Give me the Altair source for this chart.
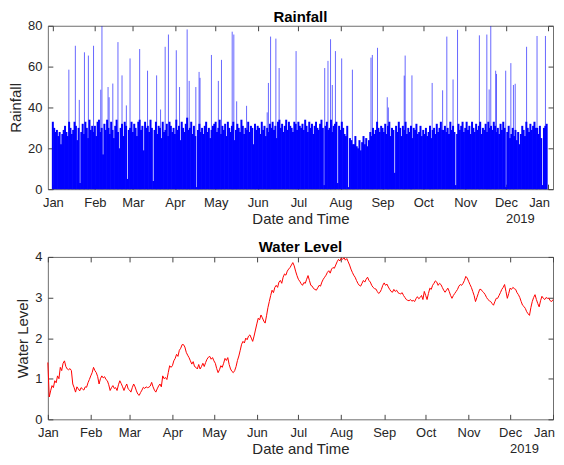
import altair as alt
import pandas as pd

START = "2019-01-01"

# ---------------- data ----------------
rain_jan = [33,30,28,29,26,28,22,27,29,31, 28,26,33,30,27,29,33,31,24,30, 3,28,32,27,33,30,25,34,29,31, 28]
rain_feb = [31,26,33,34,28,30,17,32,29,34, 30,27,33,29,25,31,34,28,20,30, 32,26,33,31,5,29,30,33]
rain_mar = [28,32,30,26,33,34,29,31,19,33, 30,31,28,34,30,4,29,33,27,31, 30,25,33,28,29,32,26,33,31,28, 30]
rain_apr = [27,34,29,31,24,33,30,28,32,35, 29,30,33,27,31,26,1,29,32,28, 30,27,31,33,28,30,25,29,31,32]
rain_may = [33,28,30,34,27,31,29,32,26,33, 30,28,31,33,24,29,32,30,28,34, 31,27,30,29,33,28,31,30,22,32, 29]
rain_jun = [31,30,27,33,29,31,26,30,28,32, 30,33,29,31,25,33,34,30,32,28, 31,34,29,33,31,30,28,33,32,29]
rain_jul = [33,31,30,32,29,34,31,28,33,30, 32,27,31,33,30,29,32,34,30,2, 31,33,29,30,34,28,31,32,33,3, 31]
rain_aug = [29,33,30,27,26,31,1,25,24,22, 22,26,21,20,24,19,23,26,22,25, 21,24,28,26,30,27,29,33,30,28, 31]
rain_sep = [30,28,32,27,31,33,26,30,29,8, 31,28,33,30,26,31,29,33,27,30, 28,31,25,30,29,32,27,28,31,26]
rain_oct = [29,27,30,26,28,31,25,29,30,27, 32,28,30,33,29,29,31,28,30,27, 33,29,31,28,2,27,32,29,31,33, 28]
rain_nov = [30,33,29,31,27,33,30,28,32,29, 31,33,27,30,29,32,28,33,30,31, 29,33,31,28,30,27,32,29,33,30]
rain_dec = [1,28,31,25,27,30,26,29,24,28, 22,27,31,29,26,33,30,28,32,29, 31,33,30,30,27,31,25,2,30,31, 32]

spike_day = [11.8,16.6,19.5,23.3,26.2,30.0,35.3,36.2,40.7,41.5,44.2,48.0,51.0,54.2,56.9,
             64.0,69.8,76.5,79.4,82.8,85.2,91.0,93.4,99.0,100.5,105.4,107.8,108.5,116.9,
             122.0,124.3,132.2,133.4,135.5,142.8,158.0,158.9,160.5,164.4,166.8,
             179.3,200.4,202.8,204.7,206.0,208.3,212.9,220.8,234.5,235.5,239.3,246.5,247.3,
             259.0,259.7,264.7,279.6,287.3,290.4,295.0,298.3,314.4,319.9,321.6,322.8,
             326.4,327.0,333.8,337.6,339.5,340.8,349.2,356.9,363.1]
spike_val = [58.5,70.2,43.7,67.0,65.4,70.2,48.7,79.8,50.0,45.0,51.7,72.0,55.7,41.0,64.0,
             68.6,58.0,55.7,39.0,69.7,75.7,68.0,50.0,78.2,53.0,50.0,57.4,54.5,65.7,
             53.0,63.3,77.1,75.7,43.0,40.8,37.6,52.0,74.7,73.7,59.3,
             67.6,59.3,62.8,73.4,51.0,67.6,64.0,58.5,64.4,65.7,69.2,45.0,40.0,
             55.6,65.4,55.7,52.0,48.4,74.7,53.7,78.0,75.3,75.7,48.8,79.8,
             58.0,56.4,58.0,61.7,51.0,51.6,69.7,75.0,75.0]

water_level = [
    1.40,0.55,0.70,0.83,0.78,0.95,0.90,1.07,1.00,1.28, 1.20,1.38,1.44,1.30,1.24,1.22,1.25,1.20,0.87,0.78,
    0.67,0.80,0.75,0.70,0.78,0.75,0.72,0.80,0.79,0.90, 0.98,1.07,1.15,1.28,1.20,1.15,1.05,0.87,1.00,1.07,
    1.02,1.05,0.98,0.95,0.85,0.71,0.78,0.83,0.76,0.78, 0.71,0.85,0.95,0.88,0.80,0.71,0.80,0.87,0.75,0.72,
    0.67,0.78,0.87,0.80,0.70,0.62,0.59,0.66,0.72,0.79, 0.76,0.80,0.78,0.79,0.82,0.91,0.80,0.72,0.67,0.75,
    0.82,0.87,0.80,1.07,1.00,1.03,0.98,1.15,1.32,1.28, 1.32,1.44,1.50,1.60,1.55,1.70,1.75,1.84,1.84,1.78,
    1.65,1.58,1.52,1.44,1.36,1.42,1.30,1.28,1.24,1.35, 1.24,1.30,1.38,1.30,1.40,1.48,1.53,1.55,1.48,1.52,
    1.44,1.38,1.25,1.15,1.22,1.32,1.28,1.38,1.50,1.45, 1.52,1.35,1.24,1.18,1.15,1.20,1.30,1.45,1.56,1.70,
    1.85,1.92,1.88,2.00,1.96,2.05,2.08,2.00,1.92,2.05, 2.20,2.35,2.49,2.45,2.57,2.50,2.42,2.37,2.55,2.75,
    2.90,3.05,3.18,3.12,3.25,3.30,3.25,3.38,3.42,3.35, 3.50,3.58,3.55,3.65,3.70,3.74,3.80,3.86,3.78,3.65,
    3.54,3.45,3.40,3.34,3.30,3.37,3.35,3.45,3.54,3.42, 3.30,3.28,3.22,3.20,3.18,3.24,3.30,3.28,3.38,3.45,
    3.50,3.55,3.62,3.66,3.60,3.70,3.74,3.72,3.80,3.88, 3.94,3.90,3.97,3.94,3.98,3.92,3.96,3.88,3.80,3.70,
    3.62,3.55,3.50,3.42,3.35,3.30,3.28,3.35,3.42,3.38, 3.45,3.50,3.42,3.38,3.30,3.25,3.22,3.21,3.15,3.10,
    3.13,3.20,3.30,3.36,3.30,3.33,3.26,3.20,3.15,3.13, 3.20,3.15,3.18,3.12,3.10,3.09,3.12,3.05,3.00,2.95,
    2.93,2.92,2.95,2.91,2.93,2.90,2.97,3.02,2.97,3.00, 3.05,2.95,3.15,3.05,2.95,3.10,3.23,3.20,3.30,3.35,
    3.41,3.38,3.30,3.35,3.32,3.25,3.18,3.13,3.18,3.23, 3.15,3.05,2.98,3.05,3.10,3.15,3.20,3.28,3.32,3.30,
    3.35,3.42,3.52,3.48,3.40,3.32,3.25,3.15,3.05,2.90, 3.00,3.10,3.20,3.20,3.15,3.12,3.07,3.00,2.95,2.92,
    2.90,2.85,2.81,2.90,2.98,2.98,3.05,3.12,3.20,3.25, 3.32,3.15,2.98,3.10,3.23,3.20,3.25,3.22,3.20,3.12,
    3.07,3.00,2.90,2.81,2.78,2.73,2.65,2.60,2.56,2.75, 2.90,3.00,3.07,2.95,2.85,2.77,2.92,3.03,2.98,2.95,
    3.00,2.98,2.98,2.92,2.90,2.95]

year_label = "2019"
rain_ticks = [0, 20, 40, 60, 80]
level_ticks = [0, 1, 2, 3, 4]

# ---------------- tables ----------------
rain_daily = (rain_jan + rain_feb + rain_mar + rain_apr + rain_may + rain_jun +
              rain_jul + rain_aug + rain_sep + rain_oct + rain_nov + rain_dec)
t0 = pd.Timestamp(START)
rain_df = pd.DataFrame({"t": pd.date_range(START, periods=len(rain_daily), freq="D"),
                        "rain": rain_daily})
spike_df = pd.DataFrame({"t": t0 + pd.to_timedelta(spike_day, unit="D"), "rain": spike_val})
water_df = pd.DataFrame({"t": pd.date_range(START, periods=len(water_level), freq="D"),
                         "level": water_level})
year_df = pd.DataFrame({"t": [pd.Timestamp("2019-12-01")], "label": [year_label]})

month_ticks = [alt.DateTime(year=2019, month=m, date=1) for m in range(1, 13)] + \
              [alt.DateTime(year=2020, month=1, date=1)]
x_domain = [alt.DateTime(year=2019, month=1, date=1), alt.DateTime(year=2020, month=1, date=1)]
xscale = alt.Scale(domain=x_domain, nice=False)

FONT = "Liberation Sans"
W = 507
H1, H2 = 164, 163
TXT = "#262626"
TICK = "#444444"

label_expr = "timeFormat(datum.value, '%b')"
last_label_shift = {"condition": {"test": "datum.value > datetime(2019, 11, 15)", "value": -9},
                    "value": 0}


def x_bottom():
    return alt.X("t:T", scale=xscale,
                 axis=alt.Axis(orient="bottom", values=month_ticks, labelExpr=label_expr,
                               title="Date and Time", offset=-5, tickSize=5, domain=False,
                               grid=False, labelPadding=7, titlePadding=2,
                               labelOffset=last_label_shift,
                               tickColor=TICK, labelFlush=False))


def x_top():
    return alt.X("t:T", scale=xscale,
                 axis=alt.Axis(orient="top", values=month_ticks, labels=False, title="",
                               titlePadding=0, titleFontSize=0, minExtent=0, maxExtent=0,
                               offset=-5, tickSize=5, domain=False, grid=False,
                               tickColor=TICK))


def y_left(field, dom, ticks, title):
    return alt.Y(field, scale=alt.Scale(domain=dom, nice=False),
                 axis=alt.Axis(orient="left", values=ticks, title=title, offset=-5,
                               tickSize=5, domain=False, grid=False, labelPadding=6,
                               titlePadding=4, tickColor=TICK))


def y_right(field, dom, ticks):
    return alt.Y(field, scale=alt.Scale(domain=dom, nice=False),
                 axis=alt.Axis(orient="right", values=ticks, labels=False, title="",
                               titlePadding=0, titleFontSize=0, minExtent=0, maxExtent=0,
                               offset=-5, tickSize=5, domain=False, grid=False,
                               tickColor=TICK))


def year_text(h):
    return alt.Chart(year_df).mark_text(
        align="left", baseline="alphabetic", fontSize=13, font=FONT, color=TXT
    ).encode(x=alt.X("t:T", scale=xscale, axis=None), y=alt.value(h + 34), text="label:N")


# ---------------- rainfall panel ----------------
rain_bars = alt.Chart(rain_df).mark_bar(width=2, color="#0000ff").encode(
    x=x_bottom(), y=y_left("rain:Q", [0, 80], rain_ticks, "Rainfall"))

rain_spikes = alt.Chart(spike_df).mark_rule(color="#0000ff", strokeWidth=1, opacity=0.6).encode(
    x=x_top(), y=y_right("rain:Q", [0, 80], rain_ticks), y2=alt.datum(0))

top = alt.layer(rain_bars, rain_spikes, year_text(H1)).resolve_axis(
    x="independent", y="independent").properties(
    width=W, height=H1,
    title=alt.Title("Rainfall", fontSize=15, fontWeight="bold", font=FONT, color="#000000",
                    offset=-5))

# ---------------- water level panel ----------------
water_line = alt.Chart(water_df).mark_line(color="#ff0000", strokeWidth=1).encode(
    x=x_bottom(), y=y_left("level:Q", [0, 4], level_ticks, "Water Level"))

water_ghost = alt.Chart(water_df).mark_line(color="#ff0000", strokeWidth=1, opacity=0).encode(
    x=x_top(), y=y_right("level:Q", [0, 4], level_ticks))

bottom = alt.layer(water_line, water_ghost, year_text(H2)).resolve_axis(
    x="independent", y="independent").properties(
    width=W, height=H2,
    title=alt.Title("Water Level", fontSize=15, fontWeight="bold", font=FONT, color="#000000",
                    offset=-4))

chart = alt.vconcat(top, bottom, spacing=12).properties(
    padding={"left": 0, "top": 0, "right": 0, "bottom": 0}
).configure_view(
    stroke="#6e6e6e", strokeWidth=1
).configure_axis(
    labelFont=FONT, labelFontSize=13, labelColor=TXT,
    titleFont=FONT, titleFontSize=15, titleFontWeight="normal", titleColor=TXT
)

chart.save("out.html", embed_options={"renderer": "svg", "actions": False})
